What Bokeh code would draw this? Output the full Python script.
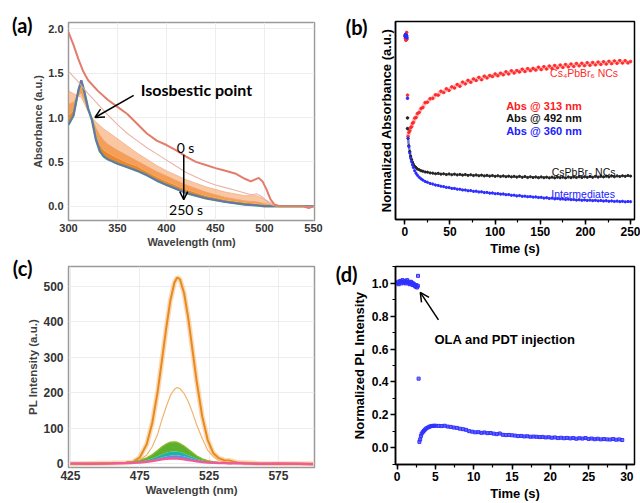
from bokeh.plotting import figure
from bokeh.layouts import row, column
from bokeh.models import (Label, Arrow, OpenHead, FixedTicker, SingleIntervalTicker,
                          PrintfTickFormatter, Range1d, LinearAxis, CustomJSTickFormatter)
from bokeh.embed import file_html
from bokeh.resources import INLINE

FONT = "Liberation Sans"
FONT2 = "Lato"

# ---------------- Panel (a): absorption spectra ----------------
a_wl_top = [300, 305, 310, 315, 320, 330, 340, 350, 360, 370, 380, 390, 400, 410, 420, 430,
            440, 450, 460, 470, 480, 486, 490, 494, 498, 502, 506, 510, 515, 520, 530, 540, 545, 550]
a_abs_0s = [1.96, 1.82, 1.66, 1.52, 1.42, 1.30, 1.20, 1.12, 1.04, 0.93, 0.82, 0.74, 0.69, 0.63, 0.56, 0.50,
            0.465, 0.43, 0.40, 0.37, 0.31, 0.28, 0.30, 0.32, 0.28, 0.19, 0.08, 0.02, 0.0, 0.0, 0.0, 0.0, -0.02, 0.0]
a_wl_2 = [300, 310, 320, 330, 340, 350, 360, 370, 380, 390, 400, 410, 420, 430, 440, 450, 460, 470,
          480, 486, 492, 497, 502, 506, 512, 530, 550]
a_abs_2 = [1.52, 1.40, 1.27, 1.15, 1.03, 0.92, 0.82, 0.74, 0.66, 0.59, 0.52, 0.45, 0.38, 0.33, 0.28, 0.24, 0.21, 0.18,
           0.15, 0.13, 0.14, 0.11, 0.06, 0.02, 0.0, 0.0, 0.0]
a_wl_band = [300, 305, 310, 313, 316, 320, 324, 328, 332, 336, 340, 350, 360, 370, 380, 390, 400,
             420, 440, 460, 480, 492, 500, 510, 520, 550]
a_abs_early = [1.30, 1.27, 1.24, 1.23, 1.16, 1.07, 1.00, 0.95, 0.91, 0.87, 0.84, 0.76, 0.68, 0.60, 0.53, 0.46, 0.40,
               0.30, 0.22, 0.16, 0.12, 0.12, 0.08, 0.02, 0.0, 0.0]
a_abs_mid1 = [1.15, 1.17, 1.25, 1.28, 1.20, 1.08, 0.99, 0.88, 0.80, 0.74, 0.70, 0.63, 0.57, 0.51, 0.45, 0.39, 0.34,
              0.24, 0.16, 0.10, 0.06, 0.05, 0.03, 0.01, 0.0, 0.0]
a_abs_mid2 = [1.02, 1.08, 1.28, 1.35, 1.25, 1.09, 0.98, 0.80, 0.69, 0.63, 0.60, 0.54, 0.49, 0.45, 0.39, 0.33, 0.28,
              0.19, 0.12, 0.07, 0.04, 0.03, 0.01, 0.0, 0.0, 0.0]
a_abs_250s = [0.92, 1.02, 1.30, 1.42, 1.30, 1.10, 0.97, 0.75, 0.62, 0.56, 0.53, 0.48, 0.44, 0.40, 0.35, 0.29, 0.24,
              0.15, 0.09, 0.05, 0.02, 0.01, 0.0, 0.0, 0.0, 0.0]
a_xticks = [300, 350, 400, 450, 500, 550]
a_yticks = [0.0, 0.5, 1.0, 1.5, 2.0]

# ---------------- Panel (b): kinetics ----------------
b_t = [3.6, 4.5, 5.5, 6.5, 7.5, 8.5, 9.5, 11, 12.5, 14, 16, 18, 20, 22.5, 25,
       28, 31, 34, 37, 40, 43, 46, 49, 52, 55, 58, 61, 64, 67, 70, 73, 76, 79, 82, 85, 88, 91, 94, 97,
       100, 103, 106, 109, 112, 115, 118, 121, 124, 127, 130, 133, 136, 139, 142, 145, 148, 151, 154, 157,
       160, 163, 166, 169, 172, 175, 178, 181, 184, 187, 190, 193, 196, 199, 202, 205, 208, 211, 214, 217,
       220, 223, 226, 229, 232, 235, 238, 241, 244, 247, 250]
b_abs313 = [0.420, 0.440, 0.448, 0.465, 0.468, 0.486, 0.490, 0.512, 0.515, 0.535, 0.541, 0.561, 0.566, 0.590, 0.592,
            0.610, 0.612, 0.630, 0.628, 0.648, 0.641, 0.660, 0.652, 0.670, 0.664, 0.682, 0.673, 0.694, 0.685, 0.703,
            0.693, 0.710, 0.702, 0.718, 0.706, 0.724, 0.715, 0.727, 0.722,
            0.735, 0.726, 0.739, 0.731, 0.746, 0.735, 0.751, 0.740, 0.752, 0.745, 0.759, 0.747, 0.762, 0.752, 0.763,
            0.755, 0.769, 0.757, 0.772, 0.760,
            0.775, 0.763, 0.778, 0.766, 0.780, 0.768, 0.783, 0.771, 0.785, 0.773, 0.788, 0.776, 0.789, 0.777, 0.792,
            0.779, 0.793, 0.781, 0.795, 0.783,
            0.797, 0.785, 0.799, 0.787, 0.801, 0.789, 0.803, 0.790, 0.802, 0.791, 0.798]
b_abs492 = [0.410, 0.372, 0.343, 0.320, 0.303, 0.290, 0.279, 0.268, 0.262, 0.255, 0.251, 0.246, 0.244, 0.240, 0.239,
            0.235, 0.234, 0.231, 0.233, 0.229, 0.231, 0.227, 0.230, 0.226, 0.229, 0.225, 0.228, 0.224, 0.227, 0.223,
            0.226, 0.222, 0.225, 0.221, 0.224, 0.220, 0.223, 0.219, 0.222,
            0.218, 0.221, 0.217, 0.220, 0.216, 0.219, 0.215, 0.218, 0.214, 0.218, 0.213, 0.217, 0.212, 0.216, 0.212,
            0.215, 0.211, 0.215, 0.211, 0.214,
            0.210, 0.214, 0.210, 0.214, 0.211, 0.214, 0.210, 0.215, 0.211, 0.215, 0.212, 0.216, 0.212, 0.216, 0.213,
            0.217, 0.213, 0.218, 0.214, 0.218,
            0.215, 0.219, 0.215, 0.220, 0.216, 0.220, 0.217, 0.221, 0.218, 0.222, 0.219]
b_abs360 = [0.410, 0.368, 0.336, 0.311, 0.292, 0.276, 0.263, 0.246, 0.233, 0.223, 0.213, 0.205, 0.199, 0.192, 0.188,
            0.182, 0.179, 0.174, 0.172, 0.168, 0.166, 0.162, 0.161, 0.157, 0.157, 0.153, 0.153, 0.149, 0.149, 0.145,
            0.146, 0.142, 0.143, 0.139, 0.140, 0.136, 0.137, 0.133, 0.134,
            0.130, 0.131, 0.128, 0.129, 0.125, 0.126, 0.122, 0.123, 0.119, 0.121, 0.117, 0.118, 0.115, 0.116, 0.113,
            0.114, 0.111, 0.112, 0.108, 0.110,
            0.106, 0.108, 0.104, 0.106, 0.103, 0.104, 0.101, 0.103, 0.100, 0.101, 0.098, 0.100, 0.097, 0.099, 0.096,
            0.098, 0.095, 0.097, 0.094, 0.096,
            0.093, 0.095, 0.092, 0.094, 0.091, 0.093, 0.090, 0.092, 0.089, 0.091, 0.090]
b_t0 = [0.3, 0.6, 0.9, 1.2, 1.5, 1.8, 2.1, 2.4]
b_abs313_0 = [0.925, 0.915, 0.935, 0.905, 0.930, 0.920, 0.945, 0.910]
b_abs360_0 = [0.930, 0.925, 0.935, 0.920, 0.930, 0.925, 0.928, 0.918]
b_t_jump = [3.0]
b_abs313_jump = [0.628]
b_abs360_jump = [0.612]
b_t_jump492 = [3.0, 3.0]
b_abs492_jump = [0.513, 0.459]

# ---------------- Panel (c): PL spectra ----------------
c_wl = [425, 440, 455, 465, 470, 475, 480, 484, 488, 491, 494, 497, 500, 502, 504, 507, 510, 513, 516,
        520, 524, 528, 532, 536, 540, 545, 550, 560, 575, 590, 600]
c_pl_0s = [0, 1, 2, 3, 5, 18, 55, 115, 206, 292, 380, 459, 511, 525, 520, 480, 409, 321, 233,
           134, 67, 30, 16, 10, 9, 4, 3, 1, 0, 0, 0]
c_pl_2 = [0, 0, 1, 2, 4, 10, 25, 48, 85, 125, 160, 192, 210, 215, 212, 198, 175, 145, 110,
          72, 38, 20, 10, 5, 4, 3, 2, 1, 0, 0, 0]
c_pl_g = [0, 1, 2, 4, 6, 10, 17, 26, 38, 48, 56, 61, 62, 61, 57, 50, 41, 32, 23,
          14, 9, 6, 4, 3, 3, 2, 1, 1, 0, 0, 0]
c_pl_t = [0, 1, 2, 3, 4, 6, 10, 15, 21, 26, 31, 34, 35, 34, 33, 29, 24, 19, 14,
          9, 6, 4, 3, 2, 2, 1, 1, 1, 0, 0, 0]
c_pl_b = [0, 1, 1, 2, 3, 5, 7, 10, 14, 18, 21, 23, 24, 24, 23, 21, 18, 14, 11,
          7, 5, 3, 2, 2, 1, 1, 1, 0, 0, 0, 0]
c_pl_m = [1, 0, 1, 2, 3, 4, 6, 8, 11, 13, 14, 15, 15, 15, 14, 13, 11, 9, 7,
          5, 4, 3, 2, 2, 1, 2, 1, 0, 1, 0, -1]
c_xticks = [425, 475, 525, 575]
c_yticks = [0, 100, 200, 300, 400, 500]

# ---------------- Panel (d): normalized PL ----------------
d_t_pre = [0.0, 0.1, 0.2, 0.3, 0.4, 0.5, 0.6, 0.7, 0.8, 0.9, 1.0, 1.1, 1.2, 1.3, 1.4, 1.5, 1.6, 1.7, 1.8, 1.9,
           2.0, 2.1, 2.2, 2.3, 2.4, 2.5, 2.6, 2.7]
d_pl_pre = [1.000, 1.010, 0.995, 1.005, 1.015, 1.010, 1.000, 1.020, 1.010, 1.005, 1.015, 1.000, 1.010, 1.020,
            1.005, 1.010, 0.995, 1.000, 1.010, 1.005, 0.990, 1.000, 0.995, 0.985, 0.980, 0.990, 0.975, 0.985]
d_t_jump = [2.72, 2.8]
d_pl_jump = [1.046, 0.42]
d_t_post = [2.9, 3.0, 3.1, 3.2, 3.35, 3.5, 3.65, 3.8, 4.0, 4.2, 4.4, 4.6, 4.8, 5.0,
            5.4, 5.8, 6.2, 6.6, 7.0, 7.4, 7.8, 8.2, 8.6, 9.0, 9.4, 9.8, 10.2, 10.6, 11.0, 11.4, 11.8, 12.2,
            12.6, 13.0, 13.4, 13.8, 14.2, 14.6, 15.0, 15.4, 15.8, 16.2, 16.6, 17.0, 17.4, 17.8, 18.2, 18.6,
            19.0, 19.4, 19.8, 20.2, 20.6, 21.0, 21.4, 21.8, 22.2, 22.6, 23.0, 23.4, 23.8, 24.2, 24.6, 25.0,
            25.4, 25.8, 26.2, 26.6, 27.0, 27.4, 27.8, 28.2, 28.6, 29.0, 29.4]
d_pl_post = [0.035, 0.050, 0.070, 0.085, 0.095, 0.103, 0.110, 0.117, 0.122, 0.127, 0.130, 0.132, 0.133, 0.133,
             0.132, 0.131, 0.133, 0.128, 0.126, 0.122, 0.120, 0.115, 0.112, 0.108, 0.100, 0.097, 0.093, 0.094,
             0.090, 0.092, 0.088, 0.089, 0.085, 0.082, 0.086, 0.078, 0.076, 0.077, 0.075, 0.073, 0.070, 0.071,
             0.068, 0.069, 0.066, 0.067, 0.066, 0.064, 0.065, 0.062, 0.063, 0.060, 0.062, 0.058, 0.060, 0.057,
             0.059, 0.056, 0.058, 0.054, 0.057, 0.055, 0.058, 0.053, 0.055, 0.051, 0.054, 0.050, 0.052, 0.050,
             0.049, 0.052, 0.048, 0.050, 0.046]


def base(width, height, xr, yr, lb, rb, tb, bb):
    p = figure(width=width, height=height, x_range=Range1d(*xr), y_range=Range1d(*yr),
               output_backend="svg", toolbar_location=None,
               min_border_left=lb, min_border_right=rb, min_border_top=tb, min_border_bottom=bb)
    p.background_fill_color = "white"
    p.border_fill_color = "white"
    return p


def style_grey(p, tick_size, label_size):
    for ax in p.axis:
        ax.axis_line_color = None
        ax.major_tick_line_color = None
        ax.minor_tick_line_color = None
        ax.major_tick_out = 0
        ax.major_tick_in = 0
        ax.minor_tick_out = 0
        ax.minor_tick_in = 0
        ax.major_label_text_font = FONT
        ax.major_label_text_font_style = "bold"
        ax.major_label_text_font_size = tick_size
        ax.major_label_text_color = "#333333"
        ax.axis_label_text_font = FONT
        ax.axis_label_text_font_style = "bold"
        ax.axis_label_text_font_size = label_size
        ax.axis_label_text_color = "#404040"
        ax.axis_label_standoff = 1
    p.xaxis.major_label_standoff = 3
    p.yaxis.major_label_standoff = 5
    p.grid.grid_line_color = "#EDEDED"
    p.grid.grid_line_width = 1
    p.outline_line_color = "#9A9A9A"
    p.outline_line_width = 1.5


def style_black(p):
    for ax in p.axis:
        ax.axis_line_color = "black"
        ax.axis_line_width = 1.5
        ax.major_tick_line_color = "black"
        ax.major_tick_line_width = 1.5
        ax.minor_tick_line_color = "black"
        ax.minor_tick_line_width = 1.2
        ax.major_tick_out = 5
        ax.major_tick_in = 0
        ax.minor_tick_out = 3
        ax.minor_tick_in = 0
        ax.major_label_text_font = FONT
        ax.major_label_text_font_style = "bold"
        ax.major_label_text_font_size = "12px"
        ax.major_label_text_color = "black"
        ax.major_label_standoff = 2
        ax.axis_label_text_font = FONT
        ax.axis_label_text_font_style = "bold"
        ax.axis_label_text_font_size = "13px"
        ax.axis_label_text_color = "black"
        ax.axis_label_standoff = 2
    p.grid.visible = False
    p.outline_line_color = "black"
    p.outline_line_width = 1.5


def panel_letter(p, ypos, txt, standoff):
    ax = LinearAxis(ticker=FixedTicker(ticks=[ypos]),
                    formatter=CustomJSTickFormatter(code="return '%s';" % txt))
    ax.axis_line_color = None
    ax.major_tick_line_color = None
    ax.minor_tick_line_color = None
    ax.major_tick_out = 0
    ax.major_tick_in = 0
    ax.minor_tick_out = 0
    ax.minor_tick_in = 0
    ax.major_label_text_font = FONT2
    ax.major_label_text_font_style = "bold"
    ax.major_label_text_font_size = "20px"
    ax.major_label_text_color = "black"
    ax.major_label_standoff = standoff
    p.add_layout(ax, "left")


# ----- (a) -----
pa = base(324, 250, (300, 551), (-0.16, 2.07), 68, 10, 22, 29)
pa.xaxis.ticker = FixedTicker(ticks=a_xticks)
pa.yaxis.ticker = FixedTicker(ticks=a_yticks)
pa.yaxis.formatter = PrintfTickFormatter(format="%.1f")
pa.xaxis.axis_label = "Wavelength (nm)"
pa.yaxis.axis_label = "Absorbance (a.u.)"
style_grey(pa, "11px", "11px")

pa.varea(x=a_wl_band, y1=a_abs_early, y2=a_abs_mid1, fill_color="#F6B07A", fill_alpha=0.7)
pa.varea(x=a_wl_band, y1=a_abs_mid1, y2=a_abs_mid2, fill_color="#F29A50", fill_alpha=0.95)
pa.varea(x=a_wl_band, y1=a_abs_mid2, y2=a_abs_250s, fill_color="#EE842C", fill_alpha=1.0)
pa.line(a_wl_band, a_abs_early, line_color="#F2AE8E", line_width=0.8)
pa.line(a_wl_band, a_abs_mid1, line_color="#F29A5E", line_width=0.8)
pa.line(a_wl_band, a_abs_250s, line_color="#45AD4A", line_width=2.4)
pa.line(a_wl_band, a_abs_250s, line_color="#22A6C4", line_width=1.6)
pa.line(a_wl_band, a_abs_250s, line_color="#4A62D8", line_width=1.0)
pa.line(a_wl_band, a_abs_250s, line_color="#D8509A", line_width=0.6)
pa.line(a_wl_2, a_abs_2, line_color="#EBA79E", line_width=1.1, line_alpha=0.9)
pa.line(a_wl_top, a_abs_0s, line_color="#E37C6A", line_width=2)

pa.add_layout(Label(x=373.6, y=1.31, text="Isosbestic point", text_font=FONT2, text_font_style="bold",
                    text_font_size="16px", text_color="black", text_align="left", text_baseline="middle"))
pa.add_layout(Arrow(end=OpenHead(size=9, line_width=1.5, line_color="black"),
                    x_start=366.5, y_start=1.25, x_end=327, y_end=1.0,
                    line_color="black", line_width=1.5))
pa.add_layout(Label(x=419.4, y=0.66, text="0 s", text_font=FONT2, text_font_size="14px",
                    text_color="black", text_align="center", text_baseline="middle"))
pa.add_layout(Arrow(end=OpenHead(size=8, line_width=1.5, line_color="black"),
                    x_start=417.6, y_start=0.58, x_end=417.6, y_end=0.075,
                    line_color="black", line_width=1.5))
pa.add_layout(Label(x=420, y=-0.04, text="250 s", text_font=FONT2, text_font_size="14px",
                    text_color="black", text_align="center", text_baseline="middle"))
panel_letter(pa, 2.04, "(a)", -3)

# ----- (c) -----
pc = base(324, 253, (423.6, 601), (-10.4, 556), 66, 8, 16, 36)
pc.xaxis.ticker = FixedTicker(ticks=c_xticks)
pc.yaxis.ticker = FixedTicker(ticks=c_yticks)
pc.xaxis.axis_label = "Wavelength (nm)"
pc.yaxis.axis_label = "PL Intensity (a.u.)"
style_grey(pc, "12px", "11.5px")

pc.line(c_wl, c_pl_0s, line_color="#F6C089", line_width=5, line_alpha=0.6)
pc.line(c_wl, c_pl_0s, line_color="#E88A1C", line_width=2)
pc.line(c_wl, c_pl_2, line_color="#F3B36E", line_width=1.2)
pc.varea(x=c_wl, y1=c_pl_g, y2=c_pl_t, fill_color="#5EAF2E")
pc.varea(x=c_wl, y1=c_pl_t, y2=c_pl_b, fill_color="#1FB3A6")
pc.varea(x=c_wl, y1=c_pl_b, y2=c_pl_m, fill_color="#5A8CEB")
pc.line(c_wl, c_pl_g, line_color="#8DBB2A", line_width=1.2)
pc.line(c_wl, c_pl_m, line_color="#EE5C98", line_width=2.5)
panel_letter(pc, 551, "(c)", -8)

# ----- (b) -----
pb = base(316, 258, (-10.3, 254.3), (0, 1), 64, 6, 21, 35)
style_black(pb)
pb.xaxis.ticker = SingleIntervalTicker(interval=50, num_minor_ticks=2)
pb.yaxis.ticker = FixedTicker(ticks=[])
pb.yaxis.major_tick_out = 0
pb.yaxis.minor_tick_out = 0
pb.xaxis.axis_label = "Time (s)"
pb.yaxis.axis_label = "Normalized Absorbance (a.u.)"

pb.line(b_t, b_abs492, line_color="#222222", line_width=2.2, line_alpha=0.4)
pb.line(b_t, b_abs313, line_color="#FF2A2A", line_width=4, line_alpha=0.35)
pb.line(b_t, b_abs360, line_color="#2A2AFF", line_width=2.5, line_alpha=0.4)
pb.scatter(b_t, b_abs492, size=2.2, color="#222222", marker="circle")
pb.scatter(b_t_jump492, b_abs492_jump, size=2.6, color="#222222", marker="circle")
pb.scatter(b_t, b_abs313, size=2.4, color="#FF2A2A", marker="circle")
pb.scatter(b_t0, b_abs313_0, size=2.6, color="#FF2A2A", marker="circle")
pb.scatter(b_t_jump, b_abs313_jump, size=2.6, color="#FF2A2A", marker="circle")
pb.scatter(b_t, b_abs360, size=2.2, color="#2A2AFF", marker="circle")
pb.scatter(b_t0, b_abs360_0, size=2.6, color="#2A2AFF", marker="circle")
pb.scatter(b_t_jump, b_abs360_jump, size=2.6, color="#2A2AFF", marker="circle")

pb.add_layout(Label(x=198.5, y=0.74, text="Cs\u2084PbBr\u2086 NCs", text_font=FONT, text_font_size="10.5px",
                    text_color="#FF2A2A", text_align="center", text_baseline="middle"))
pb.add_layout(Label(x=112.2, y=0.574, text="Abs @ 313 nm", text_font=FONT, text_font_style="bold",
                    text_font_size="11px", text_color="#FF2020", text_align="left", text_baseline="middle"))
pb.add_layout(Label(x=112.2, y=0.512, text="Abs @ 492 nm", text_font=FONT, text_font_style="bold",
                    text_font_size="11px", text_color="#111111", text_align="left", text_baseline="middle"))
pb.add_layout(Label(x=112.2, y=0.446, text="Abs @ 360 nm", text_font=FONT, text_font_style="bold",
                    text_font_size="11px", text_color="#2020FF", text_align="left", text_baseline="middle"))
pb.add_layout(Label(x=198, y=0.241, text="CsPbBr\u2083 NCs", text_font=FONT, text_font_size="10.5px",
                    text_color="#111111", text_align="center", text_baseline="middle"))
pb.add_layout(Label(x=197.4, y=0.129, text="Intermediates", text_font=FONT, text_font_size="10.5px",
                    text_color="#2020FF", text_align="center", text_baseline="middle"))
panel_letter(pb, 0.97, "(b)", 8)

# ----- (d) -----
pd_ = base(316, 245, (-0.22, 31), (-0.103, 1.103), 71, 4, 8, 34)
style_black(pd_)
pd_.xaxis.ticker = SingleIntervalTicker(interval=5, num_minor_ticks=2)
pd_.yaxis.ticker = SingleIntervalTicker(interval=0.2, num_minor_ticks=2)
pd_.yaxis.formatter = PrintfTickFormatter(format="%.1f")
pd_.xaxis.axis_label = "Time (s)"
pd_.yaxis.axis_label = "Normalized PL Intensity"

pd_.line(d_t_post, d_pl_post, line_color="#3030FF", line_width=1.4, line_alpha=0.5)
pd_.scatter(d_t_pre, d_pl_pre, size=3, color="#3030FF", marker="square", fill_alpha=0.6)
pd_.scatter(d_t_jump, d_pl_jump, size=3, color="#3030FF", marker="square", fill_alpha=0.6)
pd_.scatter(d_t_post, d_pl_post, size=3, color="#3030FF", marker="square", fill_alpha=0.6)

pd_.add_layout(Label(x=4.87, y=0.66, text="OLA and PDT injection", text_font=FONT, text_font_style="bold",
                     text_font_size="13px", text_color="black", text_align="left", text_baseline="middle"))
pd_.add_layout(Arrow(end=OpenHead(size=9, line_width=1.5, line_color="black"),
                     x_start=5.39, y_start=0.778, x_end=3.02, y_end=0.945,
                     line_color="black", line_width=1.5))
panel_letter(pd_, 1.10, "(d)", -9)

layout = row(column(pa, pc, spacing=0), column(pb, pd_, spacing=0), spacing=0)
open("out.html", "w").write(file_html(layout, INLINE, "chart"))
